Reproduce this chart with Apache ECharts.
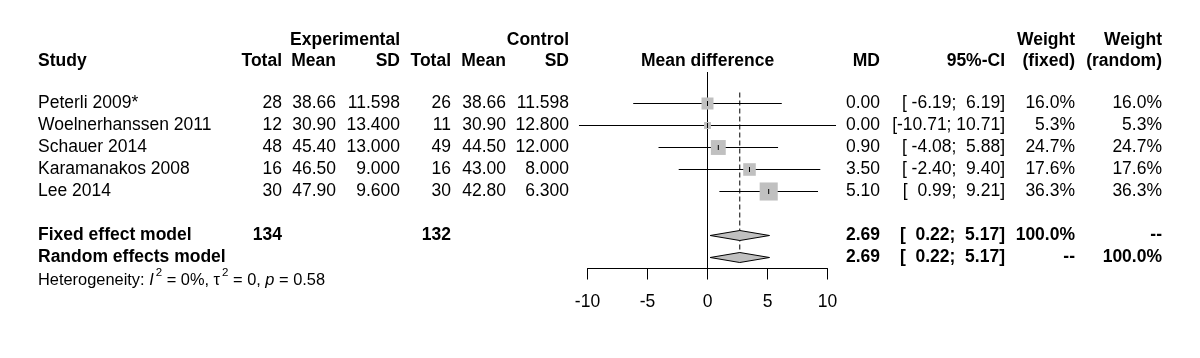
<!DOCTYPE html>
<html><head><meta charset="utf-8">
<script src="https://cdn.jsdelivr.net/npm/echarts@6/dist/echarts.min.js"></script>
<style>html,body{margin:0;padding:0;background:#fff}#c{width:1200px;height:358px}</style>
</head><body><div id="c"></div>
<script>
// ---- data ----
const studies   = ['Peterli 2009*', 'Woelnerhanssen 2011', 'Schauer 2014', 'Karamanakos 2008', 'Lee 2014'];
const expTotal  = [28, 12, 48, 16, 30];
const expMean   = [38.66, 30.90, 45.40, 46.50, 47.90];
const expSD     = [11.598, 13.400, 13.000, 9.000, 9.600];
const ctrlTotal = [26, 11, 49, 16, 30];
const ctrlMean  = [38.66, 30.90, 44.50, 43.00, 42.80];
const ctrlSD    = [11.598, 12.800, 12.000, 8.000, 6.300];
const md        = [0.00, 0.00, 0.90, 3.50, 5.10];
const ciLow     = [-6.19, -10.71, -4.08, -2.40, 0.99];
const ciHigh    = [6.19, 10.71, 5.88, 9.40, 9.21];
const wFixed    = [16.0, 5.3, 24.7, 17.6, 36.3];
const wRandom   = [16.0, 5.3, 24.7, 17.6, 36.3];
const pooledLabels = ['Fixed effect model', 'Random effects model'];
const pooledMD   = [2.69, 2.69];
const pooledLow  = [0.22, 0.22];
const pooledHigh = [5.17, 5.17];
const pooledWFixed  = ['100.0%', '--'];
const pooledWRandom = ['--', '100.0%'];
const totalExp = 134, totalCtrl = 132;
const heterogeneity = {I2: '0%', tau2: '0', p: '0.58'};
const xTicks = [-10, -5, 0, 5, 10];

// ---- layout / style ----
const FONT = '"Liberation Sans", Arial, Helvetica, sans-serif';
const FS = 17.5;
const fN = FS + 'px ' + FONT;
const fB = 'bold ' + FS + 'px ' + FONT;
const studyRows = studies.map((s, i) => i + 1);
const pooledRows = [7, 8];
const hetRow = 9;
const COL = {study: 38, eT: 282, eM: 336, eS: 400, cT: 451, cM: 506, cS: 569, md: 880, ci: 1005, wf: 1075, wr: 1162};

function pad(s, n) { return s.padStart(n, ' '); }
function ciStr(l, h) { return '[' + pad(l.toFixed(2), 6) + '; ' + pad(h.toFixed(2), 5) + ']'; }
function txt(text, x, y, align, font) {
  return {type: 'text', style: {text: text, x: x, y: y, align: align, textAlign: align,
    verticalAlign: 'middle', textVerticalAlign: 'middle', fill: '#000', font: font}};
}

const chart = echarts.init(document.getElementById('c'), null, {renderer: 'canvas'});

const headerGraphics = [];
function hdr(text, x, y, align) {
  headerGraphics.push({type: 'text', x: x, y: y, style: {text: text, align: align, textAlign: align,
    verticalAlign: 'middle', textVerticalAlign: 'middle', fill: '#000', font: fB}});
}
hdr('Experimental', COL.eS, 40, 'right');
hdr('Control', COL.cS, 40, 'right');
hdr('Weight', COL.wf, 40, 'right');
hdr('Weight', COL.wr, 40, 'right');
hdr('Study', COL.study, 61, 'left');
hdr('Total', COL.eT, 61, 'right');
hdr('Mean', COL.eM, 61, 'right');
hdr('SD', COL.eS, 61, 'right');
hdr('Total', COL.cT, 61, 'right');
hdr('Mean', COL.cM, 61, 'right');
hdr('SD', COL.cS, 61, 'right');
hdr('Mean difference', 707.5, 61, 'center');
hdr('MD', COL.md, 61, 'right');
hdr('95%-CI', COL.ci, 61, 'right');
hdr('(fixed)', COL.wf, 61, 'right');
hdr('(random)', COL.wr, 61, 'right');

const option = {
  animation: false,
  backgroundColor: '#fff',
  grid: {left: 587.5, width: 240, top: 81.5, height: 187, containLabel: false},
  xAxis: {
    type: 'value', min: -10, max: 10, interval: 5, position: 'bottom',
    axisLine: {show: true, onZero: false, lineStyle: {color: '#000', width: 1}},
    axisTick: {show: true, inside: false, length: 11, lineStyle: {color: '#000', width: 1}},
    axisLabel: {show: true, color: '#000', fontSize: FS, fontFamily: FONT, margin: 25,
      formatter: v => (xTicks.indexOf(v) >= 0 ? String(v) : '')},
    splitLine: {show: false}
  },
  yAxis: {type: 'value', min: 0, max: 8.5, inverse: true, show: false},
  graphic: headerGraphics,
  series: [
    { // reference lines
      type: 'custom', clip: false, z: 1,
      data: [[0, 0], [pooledMD[0], 1]],
      renderItem: function (params, api) {
        const x = api.coord([api.value(0), 0])[0];
        const dashed = api.value(1) === 1;
        const y1 = dashed ? api.coord([0, 0.5])[1] : 72;
        const y2 = dashed ? api.coord([0, 7.8])[1] : api.coord([0, 8.5])[1];
        return {type: 'line', shape: {x1: x, y1: y1, x2: x, y2: y2},
          style: {stroke: '#000', lineWidth: 1, lineDash: dashed ? [5, 3] : null}};
      }
    },
    { // study estimates
      type: 'custom', clip: false, z: 2,
      data: studies.map((s, i) => [md[i], studyRows[i], ciLow[i], ciHigh[i], wFixed[i]]),
      renderItem: function (params, api) {
        const r = api.value(1);
        const pm = api.coord([api.value(0), r]);
        const pl = api.coord([api.value(2), r]);
        const ph = api.coord([api.value(3), r]);
        const size = 3 * Math.sqrt(api.value(4));
        return {type: 'group', children: [
          {type: 'line', shape: {x1: pl[0], y1: pm[1], x2: ph[0], y2: pm[1]}, style: {stroke: '#000', lineWidth: 1}},
          {type: 'rect', shape: {x: pm[0] - size / 2, y: pm[1] - size / 2, width: size, height: size}, style: {fill: '#c0c0c0'}},
          {type: 'line', shape: {x1: pm[0], y1: pm[1] - 2.5, x2: pm[0], y2: pm[1] + 2.5}, style: {stroke: '#000', lineWidth: 1}}
        ]};
      }
    },
    { // pooled diamonds
      type: 'custom', clip: false, z: 2,
      data: pooledMD.map((m, i) => [m, pooledRows[i], pooledLow[i], pooledHigh[i]]),
      renderItem: function (params, api) {
        const r = api.value(1);
        const pm = api.coord([api.value(0), r]);
        const pl = api.coord([api.value(2), r]);
        const ph = api.coord([api.value(3), r]);
        const h = 5;
        return {type: 'polygon', shape: {points: [[pl[0], pm[1]], [pm[0], pm[1] - h], [ph[0], pm[1]], [pm[0], pm[1] + h]]},
          style: {fill: '#c0c0c0', stroke: '#000', lineWidth: 1}};
      }
    },
    { // study text table
      type: 'custom', clip: false, z: 3,
      data: studies.map((s, i) => [0, studyRows[i], i]),
      renderItem: function (params, api) {
        const i = api.value(2);
        const y = api.coord([0, api.value(1)])[1];
        return {type: 'group', children: [
          txt(studies[i], COL.study, y, 'left', fN),
          txt(String(expTotal[i]), COL.eT, y, 'right', fN),
          txt(expMean[i].toFixed(2), COL.eM, y, 'right', fN),
          txt(expSD[i].toFixed(3), COL.eS, y, 'right', fN),
          txt(String(ctrlTotal[i]), COL.cT, y, 'right', fN),
          txt(ctrlMean[i].toFixed(2), COL.cM, y, 'right', fN),
          txt(ctrlSD[i].toFixed(3), COL.cS, y, 'right', fN),
          txt(md[i].toFixed(2), COL.md, y, 'right', fN),
          txt(ciStr(ciLow[i], ciHigh[i]), COL.ci, y, 'right', fN),
          txt(wFixed[i].toFixed(1) + '%', COL.wf, y, 'right', fN),
          txt(wRandom[i].toFixed(1) + '%', COL.wr, y, 'right', fN)
        ]};
      }
    },
    { // pooled text rows
      type: 'custom', clip: false, z: 3,
      data: pooledLabels.map((s, i) => [0, pooledRows[i], i]),
      renderItem: function (params, api) {
        const i = api.value(2);
        const y = api.coord([0, api.value(1)])[1];
        const ch = [
          txt(pooledLabels[i], COL.study, y, 'left', fB),
          txt(pooledMD[i].toFixed(2), COL.md, y, 'right', fB),
          txt(ciStr(pooledLow[i], pooledHigh[i]), COL.ci, y, 'right', fB),
          txt(pooledWFixed[i], COL.wf, y, 'right', fB),
          txt(pooledWRandom[i], COL.wr, y, 'right', fB)
        ];
        if (i === 0) {
          ch.push(txt(String(totalExp), COL.eT, y, 'right', fB));
          ch.push(txt(String(totalCtrl), COL.cT, y, 'right', fB));
        }
        return {type: 'group', children: ch};
      }
    },
    { // heterogeneity
      type: 'custom', clip: false, z: 3,
      data: [[0, hetRow]],
      renderItem: function (params, api) {
        const y = api.coord([0, api.value(1)])[1];
        const base = {fontSize: 16.4, fontFamily: FONT, color: '#000', lineHeight: 22, verticalAlign: 'bottom'};
        return {type: 'text', style: {
          x: COL.study, y: y - 2, align: 'left', textAlign: 'left', verticalAlign: 'middle', textVerticalAlign: 'middle',
          text: '{n|Heterogeneity: }{i|I}{s|2}{n| = ' + heterogeneity.I2 + ', τ}{s|2}{n| = ' + heterogeneity.tau2 + ', }{i|p}{n| = ' + heterogeneity.p + '}',
          rich: {
            n: base,
            i: Object.assign({}, base, {fontStyle: 'italic'}),
            s: {fontSize: 11.5, fontFamily: FONT, color: '#000', lineHeight: 12, verticalAlign: 'top', padding: [0, 0, 0, 2]}
          }
        }};
      }
    }
  ]
};
chart.setOption(option);
</script>
</body></html>
